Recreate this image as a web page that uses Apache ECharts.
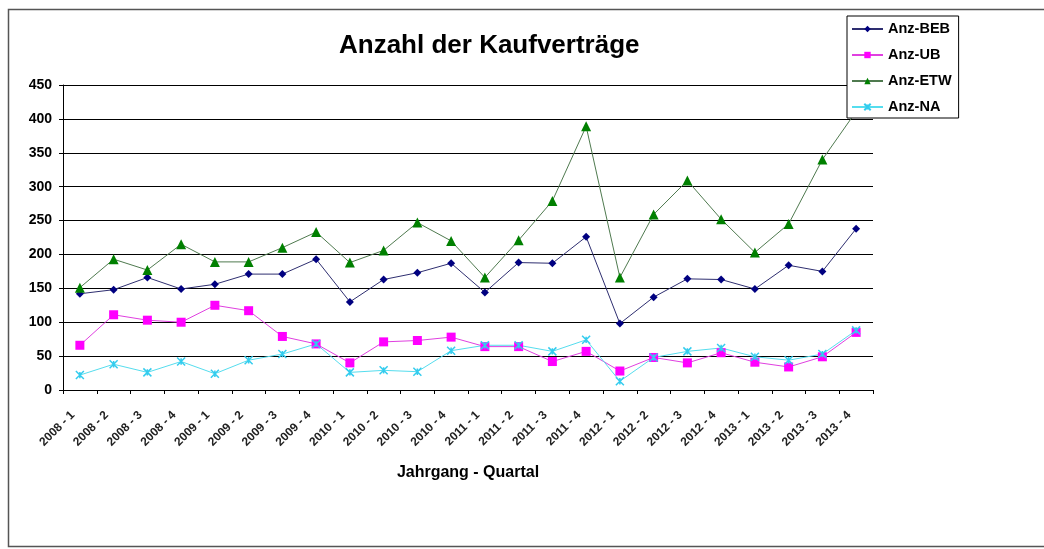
<!DOCTYPE html>
<html>
<head>
<meta charset="utf-8">
<script src="https://cdn.jsdelivr.net/npm/echarts@6/dist/echarts.min.js"></script>
<style>
  html, body { margin: 0; padding: 0; background: #fff; }
  #chart { width: 1044px; height: 549px; }
</style>
</head>
<body>
<div id="chart"></div>
<script>
// Kategorien (Jahrgang - Quartal)
var quartale = ['2008 - 1', '2008 - 2', '2008 - 3', '2008 - 4',
                '2009 - 1', '2009 - 2', '2009 - 3', '2009 - 4',
                '2010 - 1', '2010 - 2', '2010 - 3', '2010 - 4',
                '2011 - 1', '2011 - 2', '2011 - 3', '2011 - 4',
                '2012 - 1', '2012 - 2', '2012 - 3', '2012 - 4',
                '2013 - 1', '2013 - 2', '2013 - 3', '2013 - 4'];

// Werte pro Reihe
var anzBEB = [142, 148, 166, 149, 156, 171, 171, 193, 130, 163, 173, 187, 144, 188, 187, 226, 98, 137, 164, 163, 149, 184, 175, 238];
var anzUB  = [66, 111, 103, 100, 125, 117, 79, 68, 40, 71, 73, 78, 64, 64, 42, 57, 28, 48, 40, 55, 41, 34, 49, 85];
var anzETW = [151, 193, 177, 215, 189, 189, 210, 233, 188, 206, 247, 220, 166, 221, 279, 389, 166, 259, 309, 252, 203, 245, 340, 411];
var anzNA  = [22, 38, 26, 42, 24, 44, 53, 68, 26, 29, 27, 58, 66, 66, 57, 74, 13, 48, 57, 62, 49, 44, 53, 88];

var yTicks = [0, 50, 100, 150, 200, 250, 300, 350, 400, 450];

var chart = echarts.init(document.getElementById('chart'));

var fontFam = 'Arial, "Liberation Sans", sans-serif';

var option = {
    backgroundColor: '#fff',
    animation: false,
    title: {
        text: 'Anzahl der Kaufverträge',
        left: 334,
        top: 28,
        textStyle: { fontFamily: fontFam, fontWeight: 'bold', fontSize: 26, color: '#000' }
    },
    legend: {
        orient: 'vertical',
        left: 847,
        top: 16,
        padding: [5, 7, 3, 4],
        itemWidth: 31,
        itemHeight: 8,
        itemGap: 10,
        backgroundColor: '#fff',
        borderColor: '#000',
        borderWidth: 1,
        borderRadius: 0,
        textStyle: { fontFamily: fontFam, fontWeight: 'bold', fontSize: 14.5, lineHeight: 16, color: '#000' },
        data: ['Anz-BEB', 'Anz-UB', 'Anz-ETW', 'Anz-NA']
    },
    grid: { left: 63, right: 171, top: 85, bottom: 159, containLabel: false },
    xAxis: {
        type: 'category',
        data: quartale,
        boundaryGap: true,
        name: 'Jahrgang - Quartal',
        nameLocation: 'middle',
        nameGap: 75,
        nameTextStyle: { fontFamily: fontFam, fontWeight: 'bold', fontSize: 16, color: '#000', verticalAlign: 'top' },
        axisLine: { lineStyle: { color: '#000', width: 1 } },
        axisTick: { show: true, length: 4, interval: 0, lineStyle: { color: '#000' } },
        axisLabel: {
            interval: 0, rotate: 45, margin: 16, padding: [0, 10, 0, 0],
            fontFamily: fontFam, fontWeight: 'bold', fontSize: 12, color: '#222'
        }
    },
    yAxis: {
        type: 'value',
        min: 0, max: 450, interval: 50,
        axisLine: { show: true, lineStyle: { color: '#000', width: 1 } },
        axisTick: { show: true, length: 4, lineStyle: { color: '#000' } },
        axisLabel: {
            margin: 11, fontFamily: fontFam, fontWeight: 'bold', fontSize: 14, color: '#000',
            formatter: function (v) { return yTicks.indexOf(v) >= 0 ? String(v) : ''; }
        },
        splitLine: { show: true, lineStyle: { color: '#000', width: 1 } }
    },
    series: [
        {
            name: 'Anz-BEB', type: 'line', data: anzBEB,
            symbol: 'diamond', symbolSize: 8,
            itemStyle: { color: '#000080' },
            lineStyle: { color: '#2e2e70', width: 1 }
        },
        {
            name: 'Anz-UB', type: 'line', data: anzUB,
            symbol: 'rect', symbolSize: 9,
            itemStyle: { color: '#ff00ff' },
            lineStyle: { color: '#e040e0', width: 1 }
        },
        {
            name: 'Anz-ETW', type: 'line', data: anzETW,
            symbol: 'triangle', symbolSize: 10,
            itemStyle: { color: '#008000' },
            lineStyle: { color: '#4f7a4f', width: 1 }
        },
        {
            name: 'Anz-NA', type: 'line', data: anzNA,
            symbol: 'path://M0,0L10,10M10,0L0,10M5,1L5,9', symbolSize: 8,
            itemStyle: { color: 'rgba(0,0,0,0)', borderColor: '#33ccee', borderWidth: 1.5 },
            lineStyle: { color: '#55ddee', width: 1 }
        }
    ],
    graphic: [
        {
            type: 'rect', silent: true, z: 100,
            shape: { x: 8.5, y: 9.5, width: 1050, height: 537 },
            style: { fill: 'none', stroke: '#555', lineWidth: 1.5 }
        }
    ]
};

chart.setOption(option);
</script>
</body>
</html>
